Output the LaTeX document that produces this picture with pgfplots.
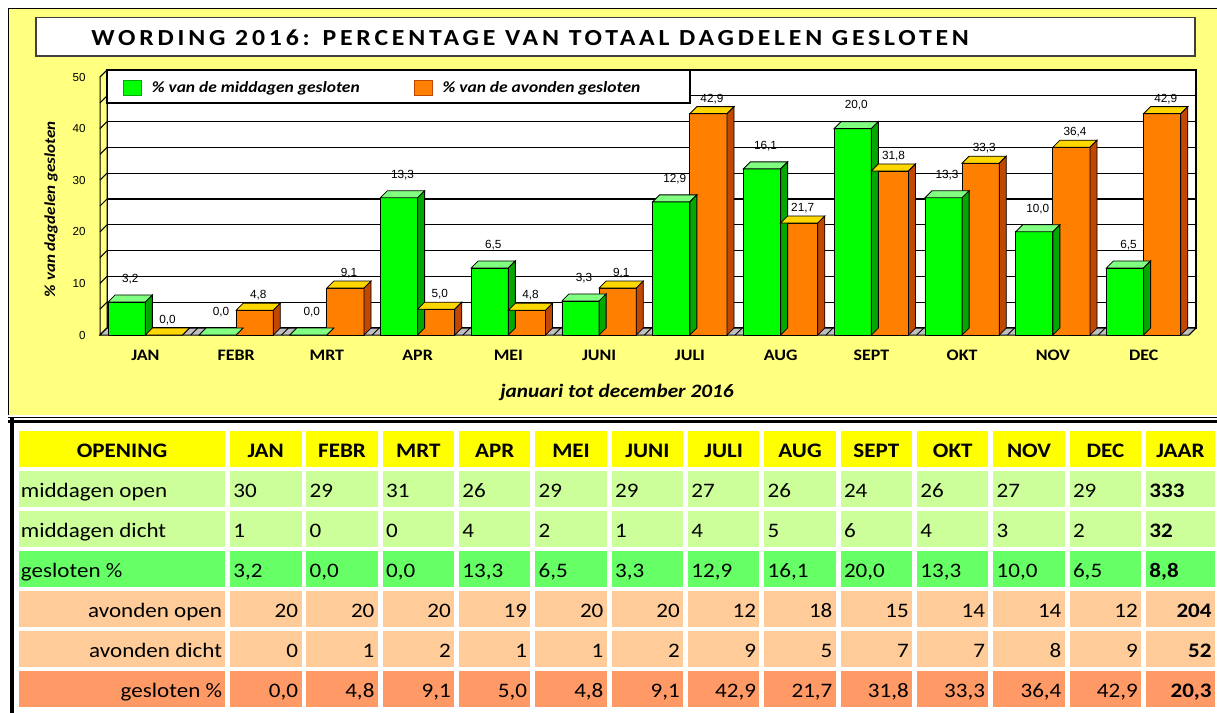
\documentclass[border=0pt]{standalone}
\usepackage{pgfplots}
\pgfplotsset{compat=1.18}
\usepackage{pgfplotstable}
\usepackage{fontspec}
\setmainfont{Carlito}[FakeStretch=1.12]
\newfontfamily\arialfont{Liberation Sans}

\definecolor{panel}{HTML}{FFFF80}
\definecolor{gfront}{HTML}{00FF00}
\definecolor{gtop}{HTML}{80FF80}
\definecolor{gside}{HTML}{00A800}
\definecolor{ofront}{HTML}{FF8000}
\definecolor{otop}{HTML}{FFD700}
\definecolor{oside}{HTML}{C04800}
\definecolor{thead}{HTML}{FFFF00}
\definecolor{tgl}{HTML}{CCFF99}
\definecolor{tgd}{HTML}{66FF66}
\definecolor{tol}{HTML}{FFCC99}
\definecolor{tod}{HTML}{FF9966}

% top and side faces of the 3D bars (drawn at the data point = top of the bar)
\pgfdeclareplotmark{gbar3d}{%
  \pgfsetlinewidth{0.4pt}\pgfsetstrokecolor{black}%
  \pgfpathmoveto{\pgfqpoint{-18.6pt}{0pt}}%
  \pgfpathlineto{\pgfqpoint{0pt}{0pt}}%
  \pgfpathlineto{\pgfqpoint{3.5pt}{3.5pt}}%
  \pgfpathlineto{\pgfqpoint{-15.1pt}{3.5pt}}%
  \pgfpathclose
  \pgfsetfillcolor{gtop}\pgfusepath{fill,stroke}%
  \pgfpathmoveto{\pgfqpoint{0pt}{0pt}}%
  \pgfpathlineto{\pgfqpoint{3.5pt}{3.5pt}}%
  \pgfpathlineto{\pgfpoint{3.5pt}{3.5pt-\rawy*2.58pt}}%
  \pgfpathlineto{\pgfpoint{0pt}{-\rawy*2.58pt}}%
  \pgfpathclose
  \pgfsetfillcolor{gside}\pgfusepath{fill,stroke}%
}
\pgfdeclareplotmark{obar3d}{%
  \pgfsetlinewidth{0.4pt}\pgfsetstrokecolor{black}%
  \pgfpathmoveto{\pgfqpoint{0pt}{0pt}}%
  \pgfpathlineto{\pgfqpoint{18.6pt}{0pt}}%
  \pgfpathlineto{\pgfqpoint{22.1pt}{3.5pt}}%
  \pgfpathlineto{\pgfqpoint{3.5pt}{3.5pt}}%
  \pgfpathclose
  \pgfsetfillcolor{otop}\pgfusepath{fill,stroke}%
  \pgfpathmoveto{\pgfqpoint{18.6pt}{0pt}}%
  \pgfpathlineto{\pgfqpoint{22.1pt}{3.5pt}}%
  \pgfpathlineto{\pgfpoint{22.1pt}{3.5pt-\rawy*2.58pt}}%
  \pgfpathlineto{\pgfpoint{18.6pt}{-\rawy*2.58pt}}%
  \pgfpathclose
  \pgfsetfillcolor{oside}\pgfusepath{fill,stroke}%
}

\pgfplotstableread{
x g gl o
0 6.4 3.2 0.0
1 0.0 0.0 4.8
2 0.0 0.0 9.1
3 26.6 13.3 5.0
4 13.0 6.5 4.8
5 6.6 3.3 9.1
6 25.8 12.9 42.9
7 32.2 16.1 21.7
8 40.0 20.0 31.8
9 26.6 13.3 33.3
10 20.0 10.0 36.4
11 13.0 6.5 42.9
}\chartdata

\newcommand{\tabfont}{\fontsize{10.3}{12}\selectfont}
\newcommand{\greenrow}[5]{%
  \fill[#2] (19,#1) rectangle (225,#1+36);
  \node[anchor=base west,inner sep=0pt,font=\tabfont] at (20.5,#1+26) {#3};
  \foreach \v [count=\i from 0] in {#4} {
    \pgfmathsetmacro\xl{230+76.33*\i}
    \fill[#2] (\xl,#1) rectangle (\xl+71.5,#1+36);
    \node[anchor=base west,inner sep=0pt,font=\tabfont] at (\xl+3,#1+26) {\v};
  }
  \fill[#2] (1146,#1) rectangle (1215,#1+36);
  \node[anchor=base west,inner sep=0pt,font=\tabfont\bfseries] at (1149,#1+26) {#5};
}
\newcommand{\orangerow}[5]{%
  \fill[#2] (19,#1) rectangle (225,#1+36);
  \node[anchor=base east,inner sep=0pt,font=\tabfont] at (222.5,#1+26) {#3};
  \foreach \v [count=\i from 0] in {#4} {
    \pgfmathsetmacro\xl{230+76.33*\i}
    \fill[#2] (\xl,#1) rectangle (\xl+71.5,#1+36);
    \node[anchor=base east,inner sep=0pt,font=\tabfont] at (\xl+68.5,#1+26) {\v};
  }
  \fill[#2] (1146,#1) rectangle (1215,#1+36);
  \node[anchor=base east,inner sep=0pt,font=\tabfont\bfseries] at (1212,#1+26) {#5};
}

\begin{document}
\begin{tikzpicture}
\useasboundingbox (0pt,0pt) rectangle (608.5pt,-356.5pt);
\begin{scope}[x=0.5pt,y=-0.5pt]
  \fill[white] (0,0) rectangle (1217,713);
  % yellow chart panel
  \fill[panel] (8.5,8.5) rectangle (1217,415);
  \draw[line width=0.6pt] (8.5,415) -- (8.5,8.5) -- (1217,8.5);
  \draw[line width=0.5pt] (8,417.5) -- (1217,417.5);
  \fill[black] (8,420) rectangle (1217,423);
  \fill[black] (10,418) rectangle (14,713);
  % title box
  \draw[fill=white, draw=black!75, line width=0.6pt] (36,17.5) rectangle (1195,56);
  \node[anchor=base west, inner sep=0pt,
        font=\fontsize{11.5}{13}\selectfont\bfseries\addfontfeature{LetterSpace=16.5}]
        at (91,45) {WORDING 2016: PERCENTAGE VAN TOTAAL DAGDELEN GESLOTEN};
  % back wall with grid
  \fill[white] (107,70) rectangle (1196,328);
  \foreach \v in {5,10,...,45} \draw[line width=0.6pt] (107,328-5.16*\v) -- (1196,328-5.16*\v);
  \draw[line width=0.6pt] (107,70) rectangle (1196,328);
  % left wall
  \filldraw[fill=panel, line width=0.5pt] (100,77) -- (107,70) -- (107,328) -- (100,335) -- cycle;
  \foreach \v in {0,5,...,50} \draw[line width=0.5pt] (100,335-5.16*\v) -- (107,328-5.16*\v);
  % floor
  \filldraw[fill=black!25, line width=0.5pt] (100,335) -- (1189,335) -- (1196,328) -- (107,328) -- cycle;
  \foreach \k in {0,...,12} \draw[line width=0.5pt] (100+90.75*\k,335) -- (107+90.75*\k,328);
  % legend box
  \filldraw[fill=white, line width=0.6pt] (107,70) rectangle (690,103);
\end{scope}

\begin{axis}[
  at={(50pt,-167.5pt)}, anchor=south west,
  x=45.375pt, y=2.58pt,
  xmin=-0.5, xmax=11.5, ymin=0, ymax=50,
  clip=false,
  axis line style={draw=none}, tick style={draw=none}, major tick length=0pt,
  /pgf/number format/assume math mode=true,
  xtick={0,...,11},
  xticklabels={JAN,FEBR,MRT,APR,MEI,JUNI,JULI,AUG,SEPT,OKT,NOV,DEC},
  xticklabel style={font=\fontsize{8}{9}\selectfont\bfseries, anchor=base, yshift=-12.5pt},
  ytick={0,10,...,50},
  yticklabel style={font=\arialfont\fontsize{5.8}{7}\selectfont, anchor=east, inner sep=0pt, xshift=-7pt},
  ylabel={\% van dagdelen gesloten},
  every axis y label/.style={at={(axis description cs:-0.045,0.488)}, rotate=90, anchor=center,
     font=\fontsize{7.6}{9}\selectfont\bfseries\itshape},
  xlabel={januari tot december 2016},
  every axis x label/.style={at={(axis description cs:0.4747,-0.244)}, anchor=base,
     font=\fontsize{9.5}{11}\selectfont\bfseries\itshape},
  legend columns=2,
  legend cell align=left,
  legend style={draw=none, fill=none, inner sep=0pt, outer sep=0pt,
     at={(axis description cs:0.0211,0.957)}, anchor=west,
     font=\fontsize{7.8}{9}\selectfont\bfseries\itshape,
     nodes={inner sep=2pt},
     /tikz/every even column/.append style={column sep=25pt}},
]
\addplot[ybar, bar width=0.41, bar shift=-0.205, fill=gfront, draw=black, line width=0.4pt,
   point meta=explicit,
   nodes near coords={\pgfmathprintnumber[fixed,fixed zerofill,precision=1,use comma]{\pgfplotspointmeta}},
   every node near coord/.append style={anchor=center, xshift=-7.55pt, yshift=11.5pt,
      font=\arialfont\fontsize{5.9}{7}\selectfont, text=black},
   legend image code/.code={\draw[fill=gfront, draw=gside, line width=0.5pt] (0pt,-3.75pt) rectangle (9pt,3.75pt); \path (12pt,0pt);}]
   table[x=x, y=g, meta=gl]{\chartdata};
\addlegendentry{\% van de middagen gesloten}
\addplot[only marks, mark=gbar3d, visualization depends on={rawy\as\rawy}, forget plot]
   table[x=x, y=g]{\chartdata};
\addplot[ybar, bar width=0.41, bar shift=0.205, fill=ofront, draw=black, line width=0.4pt,
   point meta=y,
   nodes near coords={\pgfmathprintnumber[fixed,fixed zerofill,precision=1,use comma]{\pgfplotspointmeta}},
   every node near coord/.append style={anchor=center, xshift=11.05pt, yshift=7.5pt,
      font=\arialfont\fontsize{5.9}{7}\selectfont, text=black},
   legend image code/.code={\draw[fill=ofront, draw=oside, line width=0.5pt] (0pt,-3.75pt) rectangle (9pt,3.75pt); \path (12pt,0pt);}]
   table[x=x, y=o]{\chartdata};
\addlegendentry{\% van de avonden gesloten}
\addplot[only marks, mark=obar3d, visualization depends on={rawy\as\rawy}, forget plot]
   table[x=x, y=o]{\chartdata};
\end{axis}

\begin{scope}[x=0.5pt,y=-0.5pt]
  % header row
  \fill[thead] (19,431) rectangle (225,467);
  \node[anchor=base,inner sep=0pt,font=\tabfont\bfseries] at (122,457) {OPENING};
  \foreach \h [count=\i from 0] in {JAN,FEBR,MRT,APR,MEI,JUNI,JULI,AUG,SEPT,OKT,NOV,DEC} {
    \pgfmathsetmacro\xl{230+76.33*\i}
    \fill[thead] (\xl,431) rectangle (\xl+71.5,467);
    \node[anchor=base,inner sep=0pt,font=\tabfont\bfseries] at (\xl+35.75,457) {\h};
  }
  \fill[thead] (1146,431) rectangle (1215,467);
  \node[anchor=base,inner sep=0pt,font=\tabfont\bfseries] at (1180.5,457) {JAAR};
  \greenrow{471}{tgl}{middagen open}{30,29,31,26,29,29,27,26,24,26,27,29}{333}
  \greenrow{511}{tgl}{middagen dicht}{1,0,0,4,2,1,4,5,6,4,3,2}{32}
  \greenrow{551}{tgd}{gesloten \%}{{3,2},{0,0},{0,0},{13,3},{6,5},{3,3},{12,9},{16,1},{20,0},{13,3},{10,0},{6,5}}{8,8}
  \orangerow{591}{tol}{avonden open}{20,20,20,19,20,20,12,18,15,14,14,12}{204}
  \orangerow{631}{tol}{avonden dicht}{0,1,2,1,1,2,9,5,7,7,8,9}{52}
  \orangerow{671}{tod}{gesloten \%}{{0,0},{4,8},{9,1},{5,0},{4,8},{9,1},{42,9},{21,7},{31,8},{33,3},{36,4},{42,9}}{20,3}
\end{scope}
\end{tikzpicture}
\end{document}
